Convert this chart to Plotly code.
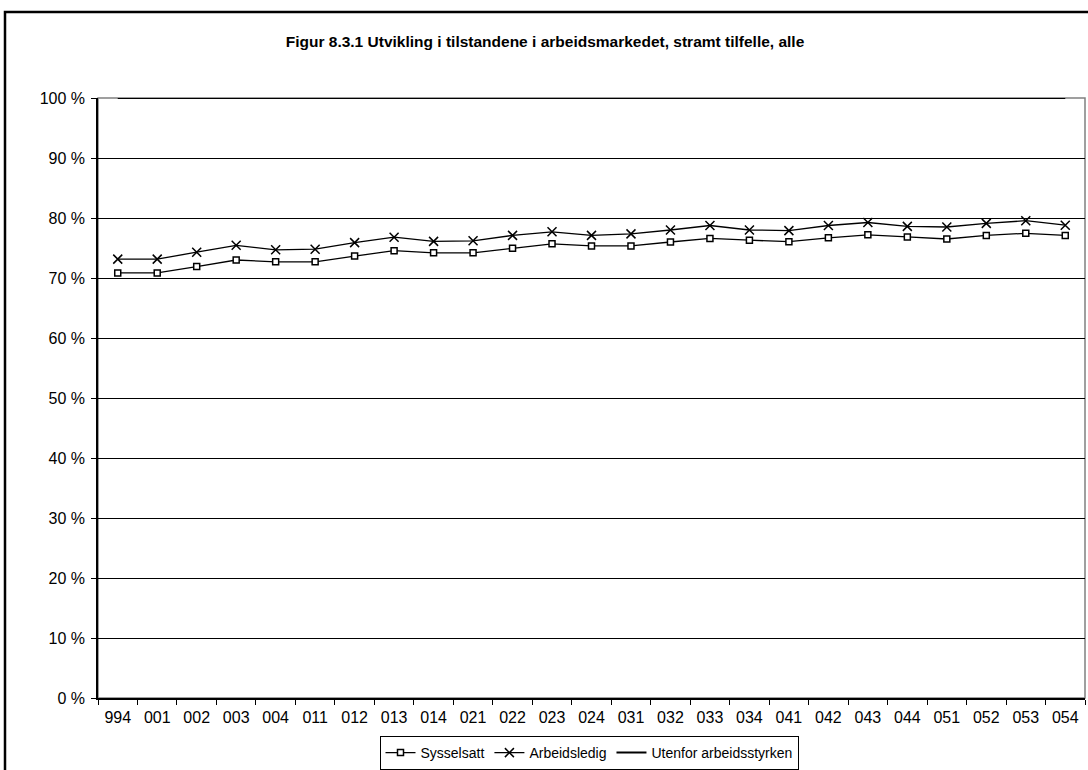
import plotly.graph_objects as go

categories = ["994", "001", "002", "003", "004", "011", "012", "013", "014", "021",
              "022", "023", "024", "031", "032", "033", "034", "041", "042", "043",
              "044", "051", "052", "053", "054"]

# shares (percent) per state, stacked to 100 %
sysselsatt = [70.85, 70.85, 71.9, 73.0, 72.7, 72.7, 73.65, 74.55, 74.2, 74.2,
              74.95, 75.7, 75.35, 75.35, 76.0, 76.6, 76.3, 76.05, 76.7, 77.2,
              76.85, 76.5, 77.1, 77.45, 77.1]
arbeidsledig = [2.3, 2.3, 2.4, 2.45, 2.0, 2.1, 2.25, 2.25, 1.9, 2.0,
                2.15, 2.0, 1.75, 2.0, 2.0, 2.15, 1.7, 1.85, 2.05, 2.05,
                1.75, 2.0, 2.0, 2.1, 1.7]
utenfor = [26.85, 26.85, 25.7, 24.55, 25.3, 25.2, 24.1, 23.2, 23.9, 23.8,
           22.9, 22.3, 22.9, 22.65, 22.0, 21.25, 22.0, 22.1, 21.25, 20.75,
           21.4, 21.5, 20.9, 20.45, 21.2]

y_ticks = list(range(0, 101, 10))

FONT = "Liberation Sans, Arial, sans-serif"

fig = go.Figure()
fig.add_trace(go.Scatter(
    x=categories, y=sysselsatt, name="Sysselsatt", stackgroup="s", fill="none",
    mode="lines+markers",
    line=dict(color="black", width=1.3),
    marker=dict(symbol="square", size=6, color="white", line=dict(color="black", width=1.5)),
))
fig.add_trace(go.Scatter(
    x=categories, y=arbeidsledig, name="Arbeidsledig", stackgroup="s", fill="none",
    mode="lines+markers",
    line=dict(color="black", width=1.3),
    marker=dict(symbol="x-thin", size=9, color="black", line=dict(color="black", width=1.5)),
))
fig.add_trace(go.Scatter(
    x=categories, y=utenfor, name="Utenfor arbeidsstyrken", stackgroup="s", fill="none",
    mode="lines",
    line=dict(color="black", width=2),
))

L, R, T, B = 98, 3, 98, 72
W, H = 1088, 770
pw, ph = W - L - R, H - T - B

# outer chart frame (left and top edges visible)
fig.add_shape(type="rect", xref="paper", yref="paper",
              x0=(5 - L) / pw, x1=(W + 10 - L) / pw,
              y0=-(H + 10 - (T + ph)) / ph, y1=(T + ph - 12) / ph,
              line=dict(color="black", width=2.5), layer="below")
# plot area border
fig.add_shape(type="rect", xref="paper", yref="paper", x0=0, x1=1, y0=0, y1=1,
              line=dict(color="#808080", width=1.5), layer="below")

fig.update_layout(
    width=W, height=H,
    margin=dict(l=L, r=R, t=T, b=B, autoexpand=False),
    paper_bgcolor="white", plot_bgcolor="white",
    font=dict(family=FONT, size=15, color="black"),
    title=dict(text="<b>Figur 8.3.1 Utvikling i tilstandene i arbeidsmarkedet, stramt tilfelle, alle</b>",
               x=545 / W, xanchor="center", y=1 - 42 / H, yanchor="middle",
               font=dict(family=FONT, size=15.5, color="black")),
    showlegend=True,
    legend=dict(orientation="h", x=(589 - L) / pw, xanchor="center",
                y=-(736 - (T + ph)) / ph, yanchor="top",
                bordercolor="black", borderwidth=1, bgcolor="white",
                font=dict(family=FONT, size=14), itemwidth=30,
                tracegroupgap=0, valign="middle"),
    xaxis=dict(type="category", range=[-0.5, len(categories) - 0.5],
               showgrid=False, showline=True, linecolor="black", linewidth=1.5,
               ticks="outside", tickson="boundaries", ticklen=5, tickcolor="black",
               ticklabelstandoff=4,
               tickfont=dict(family=FONT, size=16), zeroline=False, fixedrange=True),
    yaxis=dict(range=[0, 100], tickvals=y_ticks, ticktext=[f"{v} %" for v in y_ticks],
               showgrid=True, gridcolor="black", gridwidth=1,
               showline=True, linecolor="black", linewidth=1.5,
               ticks="outside", ticklen=5, tickcolor="black", ticklabelstandoff=3,
               tickfont=dict(family=FONT, size=16), zeroline=False, fixedrange=True),
)

fig.write_html("out.html", config={"displayModeBar": False},
               post_script="document.body.style.margin='0';document.body.style.overflow='hidden';")
